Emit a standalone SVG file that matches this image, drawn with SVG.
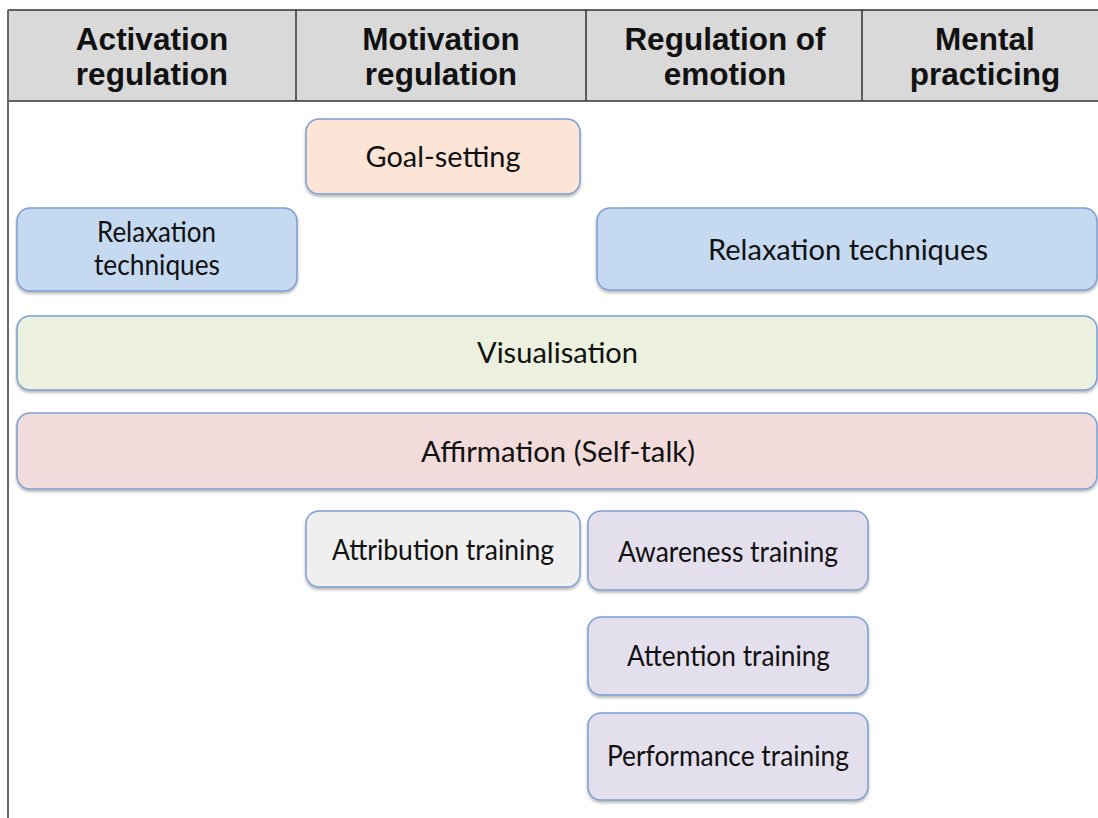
<svg xmlns="http://www.w3.org/2000/svg" width="1098" height="818" viewBox="0 0 1098 818">
<style>
.hdr{font-family:"Liberation Sans",Arial,sans-serif;font-weight:bold;font-size:31.5px;fill:#111;text-anchor:middle}
.lbl{font-family:Lato,"Noto Sans",sans-serif;font-size:28px;fill:#111;text-anchor:middle}
.box{stroke:#7f9fd0;stroke-width:1.5;filter:url(#sh)}
.ln{stroke:#333;stroke-width:1.5;fill:none}
</style>
<defs>
<filter id="sh" x="-5%" y="-20%" width="110%" height="150%">
<feDropShadow dx="0" dy="2" stdDeviation="1.5" flood-color="#000" flood-opacity="0.3"/>
</filter>
</defs>
<rect width="1098" height="818" fill="#fff"/>
<g id="header">
<rect x="8" y="10" width="1095" height="91" fill="#d9d9d9"/>
<path class="ln" d="M8 10H1098M8 101H1098M296 10V101M586 10V101M862 10V101"/>
<line x1="8" y1="10" x2="8" y2="818" stroke="#666" stroke-width="2"/>
<text class="hdr" x="152" y="50">Activation</text>
<text class="hdr" x="152" y="85">regulation</text>
<text class="hdr" x="441" y="50">Motivation</text>
<text class="hdr" x="441" y="85">regulation</text>
<text class="hdr" x="725" y="50">Regulation of</text>
<text class="hdr" x="725" y="85">emotion</text>
<text class="hdr" x="985" y="50">Mental</text>
<text class="hdr" x="985" y="85">practicing</text>
</g>
<g id="connectors"/>
<g id="goal-setting">
<rect class="box" x="306" y="119" width="274" height="75" rx="13" fill="#fce4d6"/>
<text class="lbl" x="443" y="167" font-size="29" textLength="155" lengthAdjust="spacingAndGlyphs">Goal-setting</text>
</g>
<g id="relaxation-left">
<rect class="box" x="17" y="208" width="280" height="83" rx="13" fill="#c5d9f1"/>
<text class="lbl" x="156.5" y="242" font-size="25" textLength="119" lengthAdjust="spacingAndGlyphs">Relaxation</text>
<text class="lbl" x="157" y="275" font-size="25" textLength="126" lengthAdjust="spacingAndGlyphs">techniques</text>
</g>
<g id="relaxation-right">
<rect class="box" x="597" y="208" width="500" height="82" rx="13" fill="#c5d9f1"/>
<text class="lbl" x="848" y="260" font-size="27" textLength="280" lengthAdjust="spacingAndGlyphs">Relaxation techniques</text>
</g>
<g id="visualisation">
<rect class="box" x="17" y="316" width="1080" height="74" rx="13" fill="#ebf1de"/>
<text class="lbl" x="557.5" y="363" textLength="161" lengthAdjust="spacingAndGlyphs">Visualisation</text>
</g>
<g id="affirmation">
<rect class="box" x="17" y="413" width="1080" height="76" rx="13" fill="#f2dcdb"/>
<text class="lbl" x="558" y="462" textLength="274" lengthAdjust="spacingAndGlyphs">Affirmation (Self-talk)</text>
</g>
<g id="attribution-training">
<rect class="box" x="306" y="511" width="274" height="76" rx="13" fill="#efefef"/>
<text class="lbl" x="443" y="560" textLength="222" lengthAdjust="spacingAndGlyphs">Attribution training</text>
</g>
<g id="awareness-training">
<rect class="box" x="588" y="511" width="280" height="79" rx="13" fill="#e4dfec"/>
<text class="lbl" x="728" y="562" textLength="220" lengthAdjust="spacingAndGlyphs">Awareness training</text>
</g>
<g id="attention-training">
<rect class="box" x="588" y="617" width="280" height="78" rx="13" fill="#e4dfec"/>
<text class="lbl" x="728.5" y="666" textLength="203" lengthAdjust="spacingAndGlyphs">Attention training</text>
</g>
<g id="performance-training">
<rect class="box" x="588" y="713" width="280" height="87" rx="13" fill="#e4dfec"/>
<text class="lbl" x="728" y="766" textLength="242" lengthAdjust="spacingAndGlyphs">Performance training</text>
</g>
</svg>
